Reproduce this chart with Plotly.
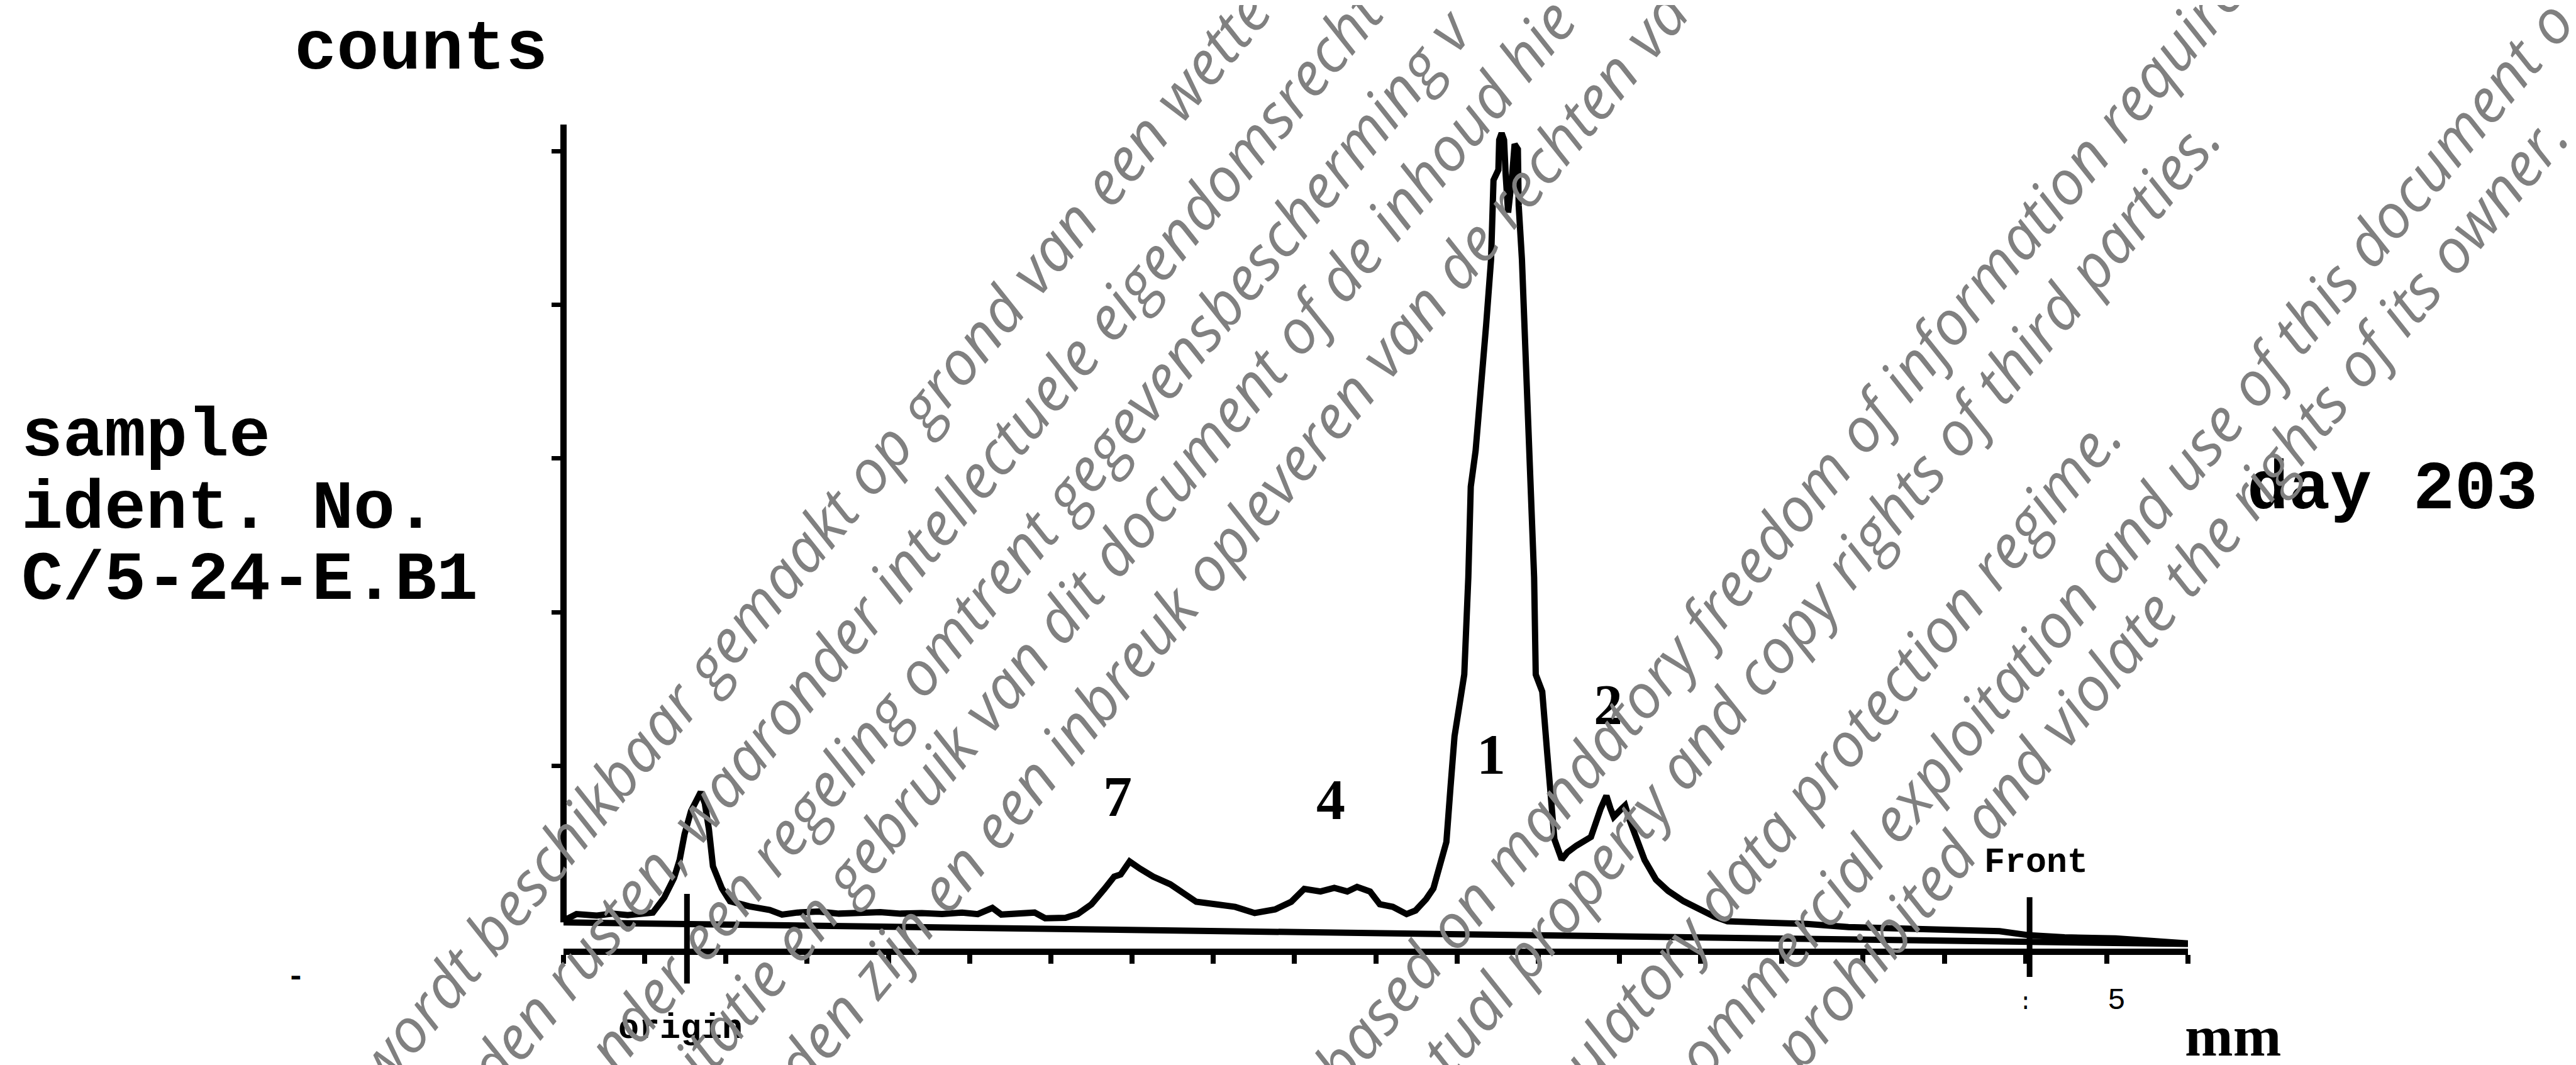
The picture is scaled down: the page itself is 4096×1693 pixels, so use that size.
import plotly.graph_objects as go

# ---------------- data ----------------
SCAN_MM = [0.1, 1.6, 4.1, 6.0, 7.9, 9.8, 11.0, 12.4, 13.6, 14.3, 14.9, 15.7, 16.3, 16.9, 17.4, 17.9,
           18.4, 19.5, 20.5, 21.9, 22.9, 25.4, 26.9, 28.8, 31.4, 33.9, 36.5, 39.0, 41.5, 44.1, 46.6,
           49.1, 51.0, 52.8, 53.9, 56.1, 58.0, 59.3, 61.8, 63.3, 65.0, 66.6, 67.8, 68.6, 69.7, 71.0,
           72.6, 74.7, 76.3, 77.9, 80.3, 82.7, 85.1, 87.6, 89.6, 91.2, 93.2, 94.9, 96.5, 97.7, 99.3,
           100.5, 102.1, 103.8, 104.9, 106.2, 107.1, 108.1, 108.7, 109.2, 109.7, 110.3, 110.9, 111.4,
           111.7, 112.3, 113.0, 113.6, 114.2, 114.5, 115.1, 115.2, 115.5, 115.8, 116.0, 116.3, 116.8,
           117.1, 117.5, 117.6, 118.0, 118.4, 118.7, 119.0, 119.3, 119.5, 119.7, 120.5, 121.1, 121.5,
           122.0, 122.9, 123.6, 124.7, 126.5, 127.7, 128.4, 128.9, 129.3, 130.3, 130.7, 131.2, 132.1,
           133.1, 134.5, 136.0, 137.9, 139.6, 141.7, 143.3, 146.8, 148.8, 153.1, 158.2, 165.8, 172.1,
           176.8, 180.5, 184.8, 191.1, 197.5, 200.0]
SCAN_COUNTS = [-0.3, 3.7, 2.7, 4.0, 3.0, 3.7, 4.7, 14.4, 27.1, 38.9, 55.6, 70.7, 77.4, 83.1, 75.7, 59.0,
               34.8, 20.4, 12.1, 9.7, 8.7, 6.4, 3.4, 4.7, 5.4, 4.0, 4.4, 5.0, 4.0, 4.4, 3.7,
               4.7, 3.7, 7.7, 3.4, 4.0, 4.7, 1.0, 1.3, 3.7, 10.1, 20.1, 28.1, 29.5, 37.9, 33.2,
               28.1, 23.1, 16.8, 11.7, 10.1, 8.4, 4.4, 6.7, 11.7, 20.1, 18.4, 20.8, 18.4, 21.4, 18.4,
               10.1, 8.4, 3.7, 6.0, 13.4, 20.4, 37.2, 50.6, 85.8, 119.3, 139.4, 159.5, 222.8,
               281.7, 305.2, 345.1, 387.3, 429.5, 481.1, 487.8, 507.2, 511.6, 507.2, 484.4, 460.0, 484.4,
               504.5, 501.2, 464.7, 429.5, 377.9, 328.3, 293.1, 258.0, 222.8, 159.5, 148.4, 109.2, 81.7,
               52.3, 39.2, 43.9, 48.2, 53.9, 72.4, 80.7, 72.4, 67.0, 72.4, 74.4, 65.7, 53.9,
               38.9, 26.1, 18.8, 12.1, 7.4, 2.0, -1.0, -1.7, -1.7, -2.7, -4.7, -5.7, -6.7,
               -7.4, -10.1, -11.4, -12.1, -14.7, -15.4]

BASELINE_MM = [0, 58, 102, 180.5, 200]
BASELINE_COUNTS = [-1.7, -5.7, -8.4, -13.7, -15.7]

MM_TICKS = list(range(0, 201, 10))
COUNT_TICKS = [100, 200, 300, 400, 500]
X_RANGE = [0, 200]
Y_RANGE = [-18.76, 517.25]

PEAK_LABELS = ["7", "4", "1", "2"]
PEAK_LABEL_MM = [68.2, 94.5, 114.2, 128.6]
PEAK_LABEL_COUNTS = [80.1, 78.4, 107.5, 140.0]

ORIGIN_MM = 15.2
ORIGIN_SPAN = [-41.5, 16.8]
FRONT_MM = 180.5
FRONT_SPAN = [-37.2, 14.7]
FRONT_LABEL_MM = 181.3
FRONT_LABEL_COUNTS = 36.9
YAXIS_BOTTOM_COUNTS = -1.7

WATERMARK = [
    "wordt beschikbaar gemaakt op grond van een wette",
    "den rusten, waaronder intellectuele eigendomsrecht",
    "nder een regeling omtrent gegevensbescherming v",
    "itatie en gebruik van dit document of de inhoud hie",
    "den zijn en een inbreuk opleveren van de rechten va",
    "based on mandatory freedom of information require",
    "tual property and copy rights of third parties.",
    "ulatory data protection regime.",
    "ommercial exploitation and use of this document o",
    "prohibited and violate the rights of its owner.",
]

# ---------------- layout geometry (output pixels) ----------------
FIG_W, FIG_H = 4096, 1693
ML, MR, MT, MB = 888, 625, 190, 193
PW = FIG_W - ML - MR
PH = FIG_H - MT - MB


def px(xo):
    return (xo - ML) / PW


def py(yo):
    return (FIG_H - MB - yo) / PH


def cy(c):
    return (c - Y_RANGE[0]) / (Y_RANGE[1] - Y_RANGE[0])


MONO = "Liberation Mono, Courier New, DejaVu Sans Mono, monospace"
SERIF = "Liberation Serif, DejaVu Serif, serif"
LW = 10

fig = go.Figure()

# baseline (zero) line of the counter
fig.add_trace(go.Scatter(x=BASELINE_MM, y=BASELINE_COUNTS, mode="lines",
                         line=dict(color="black", width=LW), hoverinfo="skip", showlegend=False))
# radio scan trace
fig.add_trace(go.Scatter(x=SCAN_MM, y=SCAN_COUNTS, mode="lines",
                         line=dict(color="black", width=LW), hoverinfo="skip", showlegend=False))

shapes = [
    # counts axis line
    dict(type="line", xref="paper", yref="y", x0=0, x1=0, y0=YAXIS_BOTTOM_COUNTS, y1=Y_RANGE[1],
         line=dict(color="black", width=LW)),
    # origin marker
    dict(type="line", xref="x", yref="paper", x0=ORIGIN_MM, x1=ORIGIN_MM,
         y0=cy(ORIGIN_SPAN[0]), y1=cy(ORIGIN_SPAN[1]), line=dict(color="black", width=LW - 1)),
    # front marker
    dict(type="line", xref="x", yref="paper", x0=FRONT_MM, x1=FRONT_MM,
         y0=cy(FRONT_SPAN[0]), y1=cy(FRONT_SPAN[1]), line=dict(color="black", width=LW - 1)),
]

ann = []


def text_px(t, xo, yo, size, family=MONO, weight=700, xanchor="left", color="black", angle=0, style="normal"):
    ann.append(dict(text=t, xref="paper", yref="paper", x=px(xo), y=py(yo), xanchor=xanchor,
                    yanchor="middle", showarrow=False, textangle=angle,
                    font=dict(family=family, size=size, color=color, weight=weight, style=style)))


TY = 110
text_px("counts", 458, 101.5 - 0.2665 * 112, 112)
text_px("sample", 24, 716 - 0.2665 * TY, TY)
text_px("ident. No.", 24, 831 - 0.2665 * TY, TY)
text_px("C/5-24-E.B1", 24, 944 - 0.2665 * TY, TY)
text_px("day 203", 3563, 800 - 0.2665 * TY, TY)

text_px("origin", 1074, 1627, 55, xanchor="center")
text_px("mm", 3542, 1670 - 0.3375 * 92, 92, family=SERIF, xanchor="center")
text_px("5", 3357, 1583, 48, xanchor="center", weight=400)
text_px(":", 3213, 1586, 36, xanchor="center", weight=400)
text_px("-", 462, 1546, 48, xanchor="center")

for lab, xm, yc in zip(PEAK_LABELS, PEAK_LABEL_MM, PEAK_LABEL_COUNTS):
    ann.append(dict(text=lab, x=xm, y=yc, xref="x", yref="y", showarrow=False,
                    xanchor="center", yanchor="middle",
                    font=dict(family=SERIF, size=92, color="black", weight=700)))

ann.append(dict(text="Front", x=FRONT_LABEL_MM, y=FRONT_LABEL_COUNTS, xref="x", yref="y",
                showarrow=False, xanchor="center", yanchor="middle",
                font=dict(family=MONO, size=55, color="black", weight=700)))

# watermark lines (centres in output pixels)
WM_CENTERS = [(1281, 846.5), (1461, 846.5), (1626, 846.5), (1778, 846.5), (1947, 846.5),
              (2817, 832), (2885, 937), (2917, 1181), (3367, 846.5), (3439, 932)]
for t, (xo, yo) in zip(WATERMARK, WM_CENTERS):
    text_px(t, xo, yo, 97, family="Open Sans, Noto Sans, sans-serif", weight=400,
            xanchor="center", color="#808080", angle=-50.5, style="italic")

fig.update_layout(
    width=FIG_W, height=FIG_H, autosize=False,
    margin=dict(l=ML, r=MR, t=MT, b=MB, pad=0, autoexpand=False),
    paper_bgcolor="white", plot_bgcolor="white",
    showlegend=False,
    shapes=shapes, annotations=ann,
    xaxis=dict(range=X_RANGE, showgrid=False, zeroline=False, showline=True, linecolor="black",
               linewidth=LW, ticks="outside", tickvals=MM_TICKS, ticklen=14, tickwidth=8,
               tickcolor="black", showticklabels=False),
    yaxis=dict(range=Y_RANGE, showgrid=False, zeroline=False, showline=False,
               ticks="outside", tickvals=COUNT_TICKS, ticklen=18, tickwidth=7,
               tickcolor="black", showticklabels=False),
)

fig.write_html("out.html")
